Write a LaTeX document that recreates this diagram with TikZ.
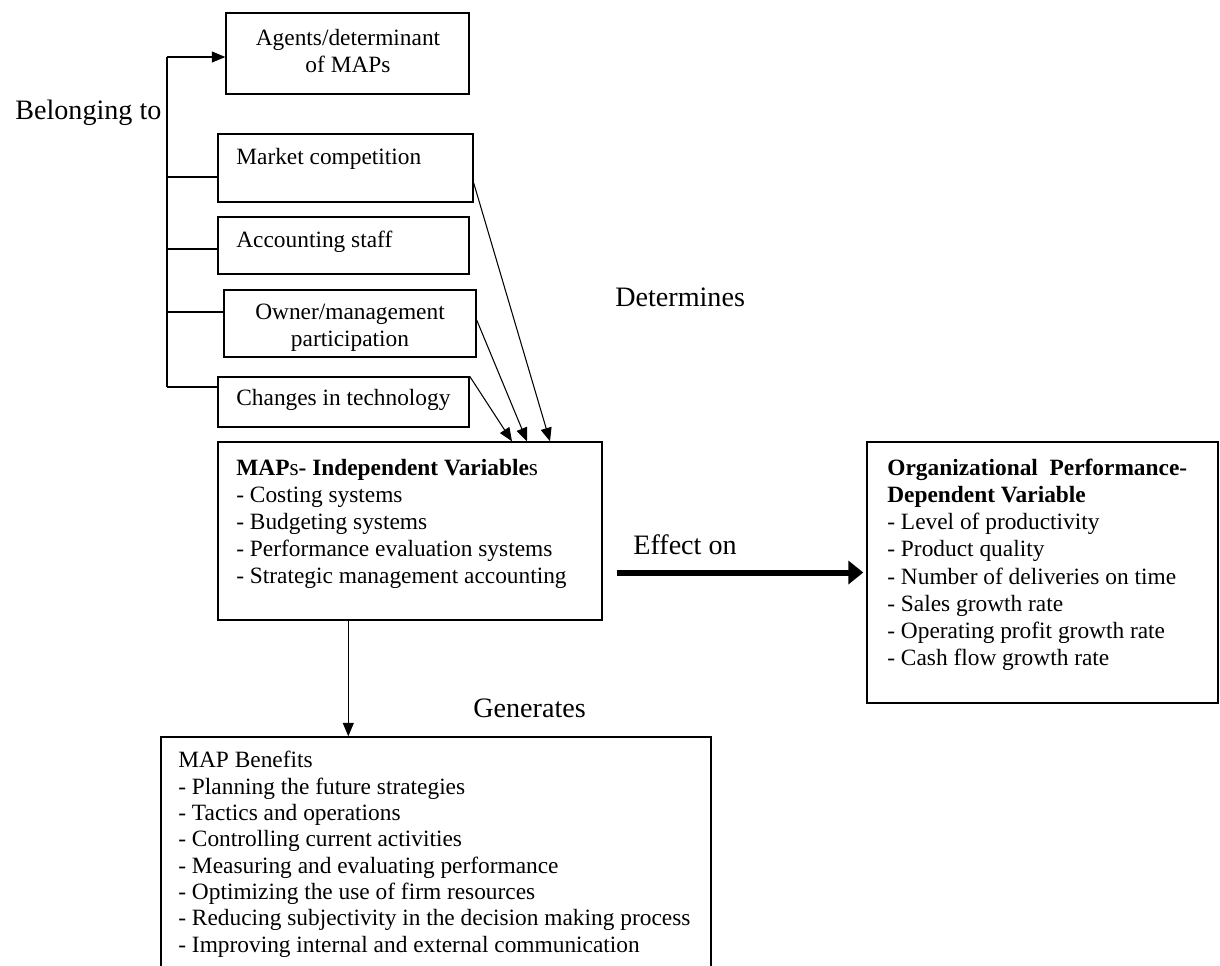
\documentclass[tikz,border=0pt]{standalone}
\usepackage{fontspec}
\setmainfont{Liberation Serif}
\usepackage{tikz}
\usetikzlibrary{arrows.meta}
\usetikzlibrary{calc}
\usetikzlibrary{fit}

\newcommand{\boxfont}{\fontsize{13.3}{15.4}\selectfont}
\newcommand{\labfont}{\fontsize{16}{19}\selectfont}

\tikzset{
  box/.style={draw,line width=0.8pt,inner sep=0pt,font=\boxfont},
  txt/.style={inner sep=0pt,font=\boxfont,align=left},
  lab/.style={inner sep=0pt,font=\labfont,anchor=west},
  line/.style={line width=0.6pt},
  bigarr/.style={line width=0.12cm,-{Triangle[length=0.3cm,width=0.46cm]}},
}

\begin{document}
\begin{tikzpicture}[x=0.02cm,y=-0.02cm,>={Triangle[length=0.27cm,width=0.22cm]}]

  \useasboundingbox (0,0) rectangle (1220,965);

  \node [box,fit={(226,13) (469,94)}] (agents) {};
  \node [box,fit={(218,134) (473,202)}] (mkt) {};
  \node [box,fit={(218,217) (469,274)}] (acc) {};
  \node [box,fit={(224,290) (476,357)}] (own) {};
  \node [box,fit={(218,377) (469,427)}] (tech) {};
  \node [box,fit={(218,442) (602,620)}] (maps) {};
  \node [box,fit={(867,442) (1218,703)}] (opb) {};
  \node [box,fit={(161,737) (711,995)}] (ben) {};

  \node [txt,align=center,anchor=north] (agentsT) at (348,29) {Agents/determinant\\of MAPs};
  \node [txt,anchor=west] (mktT) at (236,159) {Market competition};
  \node [txt,anchor=west] (accT) at (236,242) {Accounting staff};
  \node [txt,align=center,anchor=north] (ownT) at (350,304) {Owner/management\\participation};
  \node [txt,anchor=west] (techT) at (236,400) {Changes in technology};

  \node [txt,anchor=north west] (mapsT) at (236,459) {%
    \textbf{MAP}s\textbf{- Independent Variable}s\\
    - Costing systems\\
    - Budgeting systems\\
    - Performance evaluation systems\\
    - Strategic management accounting};

  \node [txt,anchor=north west] (opbT) at (887,459) {%
    \textbf{Organizational\ \ Performance-}\\
    \textbf{Dependent Variable}\\
    - Level of productivity\\
    - Product quality\\
    - Number of deliveries on time\\
    - Sales growth rate\\
    - Operating profit growth rate\\
    - Cash flow growth rate};

  \node [txt,anchor=north west,font=\fontsize{13.3}{15}\selectfont] (benT) at (178,751) {%
    MAP Benefits\\
    - Planning the future strategies\\
    - Tactics and operations\\
    - Controlling current activities\\
    - Measuring and evaluating performance\\
    - Optimizing the use of firm resources\\
    - Reducing subjectivity in the decision making process\\
    - Improving internal and external communication};

  \node [lab] (belong) at (15,113) {Belonging to};
  \node [lab] (det) at (615,297) {Determines};
  \node [lab] (eff) at (633,545) {Effect on};
  \node [lab] (gen) at (473,708) {Generates};

  % belonging to
  \coordinate (b1) at (167,57);
  \coordinate (b2) at (167,177);
  \coordinate (b3) at (167,249);
  \coordinate (b4) at (167,312);
  \coordinate (b5) at (167,387);
  \path [draw,line]
    (b1) -- (b5)
    (b2) -- (b2 -| mkt.west)
    (b3) -- (b3 -| acc.west)
    (b4) -- (b4 -| own.west)
    (b5) -- (b5 -| tech.west);
  \draw [line,->] (b1) -- (b1 -| agents.west);

  % determines
  \path [line,->]
    ([yshift=-0.3cm]mkt.east) edge ($(maps.north)+(140,0)$)
    ([yshift=0.07cm]own.east) edge ($(maps.north)+(117,0)$)
    (tech.north east)         edge ($(maps.north)+(102,0)$);

  % generates
  \coordinate (g) at ($(maps.south west)+(131,0)$);
  \draw [line,->] (g) -- (g |- ben.north);

  % effect on
  \draw [bigarr] ($(maps.east |- opb.west)+(14,0)$) -- ($(opb.west)+(-3,0)$);

\end{tikzpicture}
\end{document}
